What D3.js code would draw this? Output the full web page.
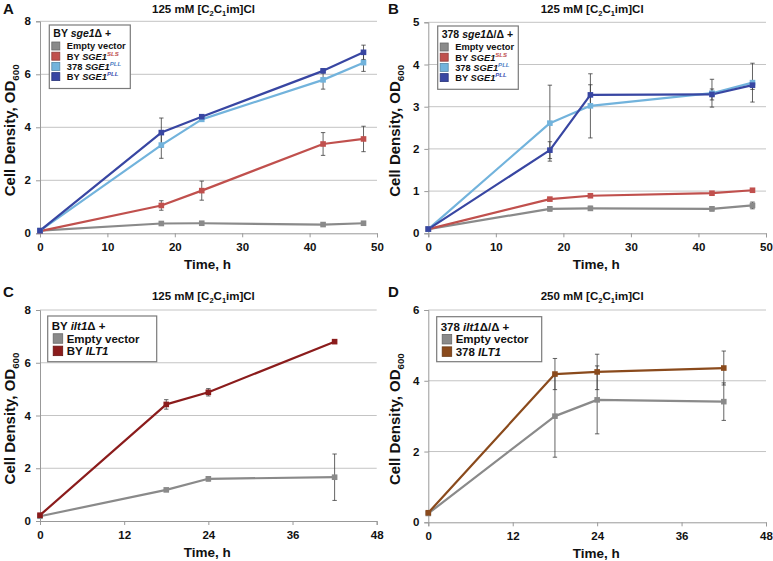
<!DOCTYPE html>
<html><head><meta charset="utf-8">
<script src="https://cdn.jsdelivr.net/npm/d3@7"></script>
<style>
body{margin:0;background:#fff}
svg{display:block}
text{font-family:"Liberation Sans",Arial,Helvetica,sans-serif;font-weight:bold;fill:#111}
</style>
</head><body><svg id="chart" width="773" height="561"></svg>
<script>
// ---------- data ----------
const timesAB = [0, 18, 24, 42, 48];
const timesCD = [0, 18, 24, 42];

const aEmpty     = [0.10, 0.37, 0.38, 0.33, 0.38];
const aEmptyErr  = [0.02, 0.03, 0.03, 0.03, 0.03];
const aSLS       = [0.08, 1.05, 1.61, 3.37, 3.56];
const aSLSErr    = [0.02, 0.18, 0.36, 0.43, 0.48];
const a378PLL    = [0.10, 3.33, 4.30, 5.79, 6.44];
const a378PLLErr = [0.02, 0.50, 0.08, 0.35, 0.33];
const aBYPLL     = [0.10, 3.80, 4.40, 6.13, 6.83];
const aBYPLLErr  = [0.02, 0.55, 0.06, 0.08, 0.27];

const bEmpty     = [0.10, 0.58, 0.59, 0.58, 0.66];
const bEmptyErr  = [0.02, 0.05, 0.05, 0.05, 0.08];
const bSLS       = [0.10, 0.81, 0.89, 0.95, 1.02];
const bSLSErr    = [0.02, 0.03, 0.03, 0.03, 0.03];
const b378PLL    = [0.10, 2.61, 3.02, 3.32, 3.57];
const b378PLLErr = [0.02, 0.90, 0.76, 0.33, 0.46];
const bBYPLL     = [0.10, 1.97, 3.28, 3.29, 3.51];
const bBYPLLErr  = [0.02, 0.20, 0.24, 0.13, 0.10];

const cEmpty     = [0.18, 1.18, 1.60, 1.66];
const cEmptyErr  = [0.02, 0.05, 0.08, 0.88];
const cILT1      = [0.22, 4.42, 4.88, 6.80];
const cILT1Err   = [0.02, 0.18, 0.14, 0.03];

const dEmpty     = [0.25, 3.00, 3.46, 3.41];
const dEmptyErr  = [0.02, 1.16, 0.96, 0.53];
const dILT1      = [0.27, 4.19, 4.25, 4.36];
const dILT1Err   = [0.02, 0.44, 0.50, 0.48];

const ticksX_AB = [0, 10, 20, 30, 40, 50];
const ticksX_CD = [0, 12, 24, 36, 48];
const ticksY_A = [0, 2, 4, 6, 8];
const ticksY_B = [0, 1, 2, 3, 4, 5];
const ticksY_C = [0, 2, 4, 6, 8];
const ticksY_D = [0, 2, 4, 6];

const COL = {gray:"#8a8a8a", red:"#c0504d", lblue:"#72b3dc", dblue:"#3846a2", dred:"#8b1c1c", brown:"#8a4a1c"};

// ---------- drawing ----------
const svg = d3.select("#chart");

function rich(sel, segs, fs) {
  let shift = 0; // current baseline offset
  segs.forEach(s => {
    const ts = sel.append("tspan").text(s.t);
    if (s.i) ts.attr("font-style", "italic");
    if (s.c) ts.style("fill", s.c);
    let target = 0;
    if (s.sup) { ts.attr("font-size", fs * 0.65); target = -fs * 0.38; }
    else if (s.sub) { ts.attr("font-size", fs * 0.65); target = fs * 0.25; }
    if (target !== shift) { ts.attr("dy", target - shift); shift = target; }
  });
}

function panel(cfg) {
  const g = svg.append("g").attr("transform", `translate(${cfg.ox},${cfg.oy})`);
  const b = cfg.box;
  const x = d3.scaleLinear().domain(cfg.xDomain).range([b.x0, b.x1]);
  const y = d3.scaleLinear().domain(cfg.yDomain).range([b.y1, b.y0]);

  // gridlines
  g.selectAll(".grid").data(cfg.yTicks.filter(v => v > 0)).enter().append("line")
    .attr("x1", b.x0).attr("x2", b.x1)
    .attr("y1", d => y(d)).attr("y2", d => y(d))
    .attr("stroke", "#c4c4c4").attr("stroke-width", 1);

  // axes
  const ax = g.append("g").attr("transform", `translate(0,${b.y1})`)
    .call(d3.axisBottom(x).tickValues(cfg.xTicks).tickFormat(d3.format("d")).tickSize(4).tickPadding(6));
  const ay = g.append("g").attr("transform", `translate(${b.x0},0)`)
    .call(d3.axisLeft(y).tickValues(cfg.yTicks).tickFormat(d3.format("d")).tickSize(4).tickPadding(5));
  [ax, ay].forEach(a => {
    a.select(".domain").attr("stroke", "#999").attr("stroke-width", 1);
    a.selectAll(".tick line").attr("stroke", "#999");
    a.selectAll(".tick text").attr("font-size", 11.5)
      .attr("font-family", '"Liberation Sans",Arial,sans-serif').attr("font-weight", "bold").style("fill", "#111");
  });

  // lines
  const line = d3.line().x((d, i) => x(cfg.times[i])).y(d => y(d));
  cfg.series.forEach(s => {
    g.append("path").datum(s.v).attr("d", line)
      .attr("fill", "none").attr("stroke", s.c).attr("stroke-width", 2.2).attr("stroke-linejoin", "round");
  });
  // error bars
  cfg.series.forEach(s => {
    s.v.forEach((v, i) => {
      const e = s.e[i];
      if (e < 0.05) return;
      const cx = x(cfg.times[i]);
      const eg = g.append("g").attr("stroke", "#3c3c3c").attr("stroke-width", 0.8);
      eg.append("line").attr("x1", cx).attr("x2", cx).attr("y1", y(v - e)).attr("y2", y(v + e));
      eg.append("line").attr("x1", cx - 2.2).attr("x2", cx + 2.2).attr("y1", y(v - e)).attr("y2", y(v - e));
      eg.append("line").attr("x1", cx - 2.2).attr("x2", cx + 2.2).attr("y1", y(v + e)).attr("y2", y(v + e));
    });
  });
  // markers
  cfg.series.forEach(s => {
    g.selectAll(null).data(s.v).enter().append("rect")
      .attr("x", (d, i) => x(cfg.times[i]) - 2.8).attr("y", d => y(d) - 2.8)
      .attr("width", 5.6).attr("height", 5.6).attr("fill", s.c);
  });

  // panel letter
  g.append("text").attr("x", 3).attr("y", cfg.letterY).attr("font-size", 15).text(cfg.letter);
  // title
  const tt = g.append("text").attr("x", (b.x0 + b.x1) / 2 - 5).attr("y", cfg.titleY)
    .attr("text-anchor", "middle").attr("font-size", 11.5);
  rich(tt, cfg.title, 11.5);
  // x label
  g.append("text").attr("x", (b.x0 + b.x1) / 2 - 1).attr("y", b.y1 + 36)
    .attr("text-anchor", "middle").attr("font-size", 13.5).text("Time, h");
  // y label
  const yl = g.append("text").attr("transform", `translate(15,${(b.y0 + b.y1) / 2 + 3}) rotate(-90)`)
    .attr("text-anchor", "middle").attr("font-size", 15);
  rich(yl, [{t: "Cell Density, OD"}, {t: "600", sub: true}], 15);

  // legend
  const L = cfg.legend;
  g.append("rect").attr("x", L.x).attr("y", L.y).attr("width", L.w).attr("height", L.h)
    .attr("fill", "#fff").attr("stroke", "#7a7a7a").attr("stroke-width", 1.2);
  const lt = g.append("text").attr("x", L.x + 4).attr("y", L.y + L.titleDy).attr("font-size", L.tfs);
  rich(lt, L.title, L.tfs);
  L.items.forEach((it, k) => {
    const cy = L.y + L.row0 + k * L.rowH;
    g.append("rect").attr("x", L.x + L.sx).attr("y", cy - L.ss / 2).attr("width", L.ss).attr("height", L.ss)
      .attr("fill", it.c).attr("stroke", d3.color(it.c).darker(0.8)).attr("stroke-width", 0.8);
    const t = g.append("text").attr("x", L.x + L.tx).attr("y", cy + L.fs * 0.36).attr("font-size", L.fs);
    rich(t, it.label, L.fs);
  });
}

const titleIL = [{t: "125 mM [C"}, {t: "2", sub: true}, {t: "C"}, {t: "1", sub: true}, {t: "im]Cl"}];
const titleIL250 = [{t: "250 mM [C"}, {t: "2", sub: true}, {t: "C"}, {t: "1", sub: true}, {t: "im]Cl"}];

const sgeItems = [
  {c: COL.gray, label: [{t: "Empty vector"}]},
  {c: COL.red, label: [{t: "BY "}, {t: "SGE1", i: true}, {t: "SLS", i: true, sup: true, c: COL.red}]},
  {c: COL.lblue, label: [{t: "378 "}, {t: "SGE1", i: true}, {t: "PLL", i: true, sup: true, c: "#4f7fc4"}]},
  {c: COL.dblue, label: [{t: "BY "}, {t: "SGE1", i: true}, {t: "PLL", i: true, sup: true, c: "#3a4db0"}]}
];

panel({
  ox: 0, oy: 0, letter: "A", letterY: 14, titleY: 13, title: titleIL,
  box: {x0: 40, x1: 377, y0: 21.3, y1: 233.3},
  xDomain: [0, 50], yDomain: [0, 8], xTicks: ticksX_AB, yTicks: ticksY_A, times: timesAB,
  series: [
    {v: aEmpty, e: aEmptyErr, c: COL.gray},
    {v: aSLS, e: aSLSErr, c: COL.red},
    {v: a378PLL, e: a378PLLErr, c: COL.lblue},
    {v: aBYPLL, e: aBYPLLErr, c: COL.dblue}
  ],
  legend: {x: 49.3, y: 25, w: 81, h: 63.5, titleDy: 11.7, tfs: 10.5, fs: 9.3, row0: 21, rowH: 10.2, sx: 2.5, ss: 8, tx: 17.5,
    title: [{t: "BY "}, {t: "sge1", i: true}, {t: "Δ +"}], items: sgeItems}
});

panel({
  ox: 385, oy: 0, letter: "B", letterY: 14, titleY: 13, title: titleIL,
  box: {x0: 43.3, x1: 381, y0: 22.3, y1: 233.3},
  xDomain: [0, 50], yDomain: [0, 5], xTicks: ticksX_AB, yTicks: ticksY_B, times: timesAB,
  series: [
    {v: bEmpty, e: bEmptyErr, c: COL.gray},
    {v: bSLS, e: bSLSErr, c: COL.red},
    {v: b378PLL, e: b378PLLErr, c: COL.lblue},
    {v: bBYPLL, e: bBYPLLErr, c: COL.dblue}
  ],
  legend: {x: 52.7, y: 26, w: 80.6, h: 63.3, titleDy: 11.7, tfs: 10.5, fs: 9.3, row0: 21, rowH: 10.2, sx: 2.5, ss: 8, tx: 17.5,
    title: [{t: "378 "}, {t: "sge1", i: true}, {t: "Δ/Δ +"}], items: sgeItems}
});

panel({
  ox: 0, oy: 280, letter: "C", letterY: 17, titleY: 20, title: titleIL,
  box: {x0: 40, x1: 376.7, y0: 30, y1: 241},
  xDomain: [0, 48], yDomain: [0, 8], xTicks: ticksX_CD, yTicks: ticksY_C, times: timesCD,
  series: [
    {v: cEmpty, e: cEmptyErr, c: COL.gray},
    {v: cILT1, e: cILT1Err, c: COL.dred}
  ],
  legend: {x: 47.7, y: 36, w: 109, h: 45.7, titleDy: 14, tfs: 11.5, fs: 11.5, row0: 22.5, rowH: 12.4, sx: 5.5, ss: 9.5, tx: 19,
    title: [{t: "BY "}, {t: "ilt1", i: true}, {t: "Δ +"}],
    items: [{c: COL.gray, label: [{t: "Empty vector"}]}, {c: COL.dred, label: [{t: "BY "}, {t: "ILT1", i: true}]}]}
});

panel({
  ox: 385, oy: 280, letter: "D", letterY: 17, titleY: 20, title: titleIL250,
  box: {x0: 43.3, x1: 381, y0: 30, y1: 242.3},
  xDomain: [0, 48], yDomain: [0, 6], xTicks: ticksX_CD, yTicks: ticksY_D, times: timesCD,
  series: [
    {v: dEmpty, e: dEmptyErr, c: COL.gray},
    {v: dILT1, e: dILT1Err, c: COL.brown}
  ],
  legend: {x: 51.7, y: 36.7, w: 105, h: 45, titleDy: 14, tfs: 11.5, fs: 11.5, row0: 22.5, rowH: 12.4, sx: 5.5, ss: 9.5, tx: 19,
    title: [{t: "378 "}, {t: "ilt1", i: true}, {t: "Δ/Δ +"}],
    items: [{c: COL.gray, label: [{t: "Empty vector"}]}, {c: COL.brown, label: [{t: "378 "}, {t: "ILT1", i: true}]}]}
});
</script>
</body></html>
